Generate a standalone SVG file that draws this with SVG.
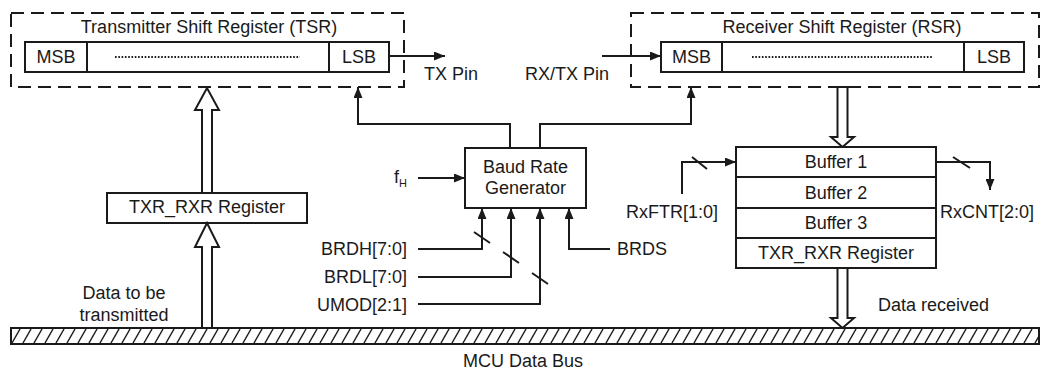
<svg xmlns="http://www.w3.org/2000/svg" width="1041" height="373" viewBox="0 0 1041 373">
<style>
text{font-family:"Liberation Sans",Arial,sans-serif;font-size:18px;fill:#1a1a1a}
.c{text-anchor:middle}
.e{text-anchor:end}
.box{fill:#fff;stroke:#1a1a1a;stroke-width:2}
.dash{fill:none;stroke:#1a1a1a;stroke-width:2;stroke-dasharray:13 7}
.ln{fill:none;stroke:#1a1a1a;stroke-width:2}
.ar{marker-end:url(#ah)}
.dot{fill:none;stroke:#1a1a1a;stroke-width:1.8;stroke-dasharray:1.6 1.7}
.hol{fill:#fff;stroke:#1a1a1a;stroke-width:2;stroke-linejoin:miter}
</style>
<defs>
<marker id="ah" markerUnits="userSpaceOnUse" markerWidth="12" markerHeight="9" refX="11" refY="4.5" orient="auto">
<path d="M0,0 L11,4.5 L0,9 z" fill="#1a1a1a"/>
</marker>
<pattern id="hatch" patternUnits="userSpaceOnUse" x="0" y="328" width="11" height="16">
<line x1="1" y1="15" x2="9" y2="1" stroke="#1a1a1a" stroke-width="1.5"/>
</pattern>
</defs>
<rect width="1041" height="373" fill="#fff"/>

<g id="tsr">
<rect class="dash" x="11" y="13" width="393" height="74"/>
<text class="c" x="209" y="32.5">Transmitter Shift Register (TSR)</text>
<rect class="box" x="25" y="42" width="364" height="30"/>
<line class="ln" x1="87" y1="42" x2="87" y2="72"/>
<line class="ln" x1="329" y1="42" x2="329" y2="72"/>
<text class="c" x="56" y="63">MSB</text>
<text class="c" x="359" y="63">LSB</text>
<line class="dot" x1="115" y1="57" x2="300" y2="57"/>
</g>

<g id="rsr">
<rect class="dash" x="631" y="13" width="408" height="74"/>
<text class="c" x="842" y="32.5">Receiver Shift Register (RSR)</text>
<rect class="box" x="661" y="42" width="363" height="30"/>
<line class="ln" x1="722" y1="42" x2="722" y2="72"/>
<line class="ln" x1="964" y1="42" x2="964" y2="72"/>
<text class="c" x="691.5" y="63">MSB</text>
<text class="c" x="994" y="63">LSB</text>
<line class="dot" x1="752" y1="57" x2="933" y2="57"/>
</g>

<g id="txr-rxr-tx">
<rect class="box" x="107" y="193" width="200" height="30"/>
<text class="c" x="207" y="213">TXR_RXR Register</text>
</g>

<g id="brg">
<rect class="box" x="465" y="148" width="121" height="60"/>
<text class="c" x="525.5" y="173">Baud Rate</text>
<text class="c" x="525.5" y="194">Generator</text>
</g>

<g id="buffers">
<rect class="box" x="736" y="147" width="200" height="121"/>
<line class="ln" x1="736" y1="177" x2="936" y2="177"/>
<line class="ln" x1="736" y1="208" x2="936" y2="208"/>
<line class="ln" x1="736" y1="238" x2="936" y2="238"/>
<text class="c" x="836" y="168">Buffer 1</text>
<text class="c" x="836" y="199">Buffer 2</text>
<text class="c" x="836" y="229">Buffer 3</text>
<text class="c" x="836" y="259">TXR_RXR Register</text>
</g>

<g id="bus">
<rect x="11" y="328" width="1028" height="16" fill="url(#hatch)" stroke="#1a1a1a" stroke-width="2"/>
<text class="c" x="523" y="367">MCU Data Bus</text>
</g>

<g id="connectors">
<path class="ln ar" d="M389,56 H445"/>
<path class="ln ar" d="M602,56 H661"/>
<path class="ln ar" d="M510,148 V124 H358 V87"/>
<path class="ln ar" d="M540,148 V124 H691 V87"/>
<path class="ln ar" d="M418,178 H465"/>
<path class="ln ar" d="M418,249 H482 V208"/>
<path class="ln ar" d="M418,277 H511 V208"/>
<path class="ln ar" d="M418,304 H540 V208"/>
<path class="ln ar" d="M610,249 H569 V208"/>
<path class="ln ar" d="M682,194 V162 H736"/>
<path class="ln ar" d="M936,162 H990 V190"/>
<line class="ln" x1="474" y1="232" x2="490" y2="243"/>
<line class="ln" x1="503" y1="252" x2="519" y2="263"/>
<line class="ln" x1="532" y1="273" x2="548" y2="284"/>
<line class="ln" x1="692" y1="157" x2="707" y2="169"/>
<line class="ln" x1="953" y1="157" x2="970" y2="168"/>
<polygon class="hol" points="202,193 202,110 195,110 207,88 219,110 212,110 212,193"/>
<polygon class="hol" points="202,328 202,247 195,247 207,223 219,247 212,247 212,328"/>
<polygon class="hol" points="837.5,87 837.5,137 831,137 842.5,147 854,137 847.5,137 847.5,87"/>
<polygon class="hol" points="837.5,268 837.5,318 831,318 842.5,328 854,318 847.5,318 847.5,268"/>
</g>

<g id="labels">
<text x="424" y="80">TX Pin</text>
<text class="e" x="609" y="80">RX/TX Pin</text>
<text x="394" y="183">f<tspan font-size="11" dy="4">H</tspan></text>
<text class="e" x="407" y="255">BRDH[7:0]</text>
<text class="e" x="407" y="283">BRDL[7:0]</text>
<text class="e" x="407" y="311">UMOD[2:1]</text>
<text x="617" y="255">BRDS</text>
<text class="e" x="718" y="218">RxFTR[1:0]</text>
<text x="940" y="218">RxCNT[2:0]</text>
<text x="878" y="311">Data received</text>
<text class="c" x="124" y="299">Data to be</text>
<text class="c" x="124" y="321">transmitted</text>
</g>
</svg>
